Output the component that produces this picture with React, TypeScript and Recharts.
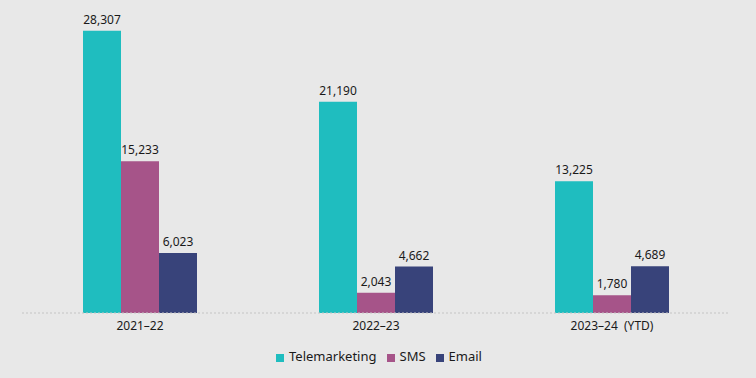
import React from "react";
import { BarChart, Bar, XAxis, YAxis, Legend, LabelList } from "recharts";

const categories = ["2021–22", "2022–23", "2023–24\u00a0 (YTD)"];
const telemarketing = [28307, 21190, 13225];
const sms = [15233, 2043, 1780];
const email = [6023, 4662, 4689];
const seriesOrder = ["Telemarketing", "SMS", "Email"];

const data = categories.map((c, i) => ({
  name: c,
  Telemarketing: telemarketing[i],
  SMS: sms[i],
  Email: email[i],
}));

const FONT = "'Noto Sans', sans-serif";
const fmt = (v: any) => Number(v).toLocaleString("en-US");

export default function App() {
  return (
    <div style={{ position: "absolute", left: 0, top: 0, width: 756, height: 378, background: "#e8e8e8", fontFamily: FONT }}>
      <BarChart
        width={756}
        height={378}
        data={data}
        margin={{ top: 14, right: 26, left: 22, bottom: 12 }}
        barGap={0}
        barCategoryGap="26%"
      >
        <XAxis
          dataKey="name"
          axisLine={{ stroke: "#c4c4c4", strokeDasharray: "2 2" }}
          tickLine={false}
          tick={{ fill: "#1a1a1a", fontSize: 12, fontFamily: FONT }}
          height={30}
          tickMargin={2}
        />
        <YAxis hide domain={[0, 30000]} />
        <Legend
          verticalAlign="bottom"
          iconType="square"
          iconSize={8}
          itemSorter={(item: any) => seriesOrder.indexOf(item.value)}
          wrapperStyle={{ fontSize: 13, fontFamily: FONT, height: 23, bottom: 8, left: 30 }}
          formatter={(v: any) => <span style={{ color: "#1a1a1a", marginLeft: 1 }}>{v}</span>}
        />
        <Bar dataKey="Telemarketing" fill="#1fbdbf" barSize={38} isAnimationActive={false}>
          <LabelList dataKey="Telemarketing" position="top" offset={7} formatter={fmt} style={{ fill: "#1a1a1a", fontSize: 12, fontFamily: FONT }} />
        </Bar>
        <Bar dataKey="SMS" fill="#a65489" barSize={38} isAnimationActive={false}>
          <LabelList dataKey="SMS" position="top" offset={7} formatter={fmt} style={{ fill: "#1a1a1a", fontSize: 12, fontFamily: FONT }} />
        </Bar>
        <Bar dataKey="Email" fill="#38437a" barSize={38} isAnimationActive={false}>
          <LabelList dataKey="Email" position="top" offset={7} formatter={fmt} style={{ fill: "#1a1a1a", fontSize: 12, fontFamily: FONT }} />
        </Bar>
      </BarChart>
    </div>
  );
}
